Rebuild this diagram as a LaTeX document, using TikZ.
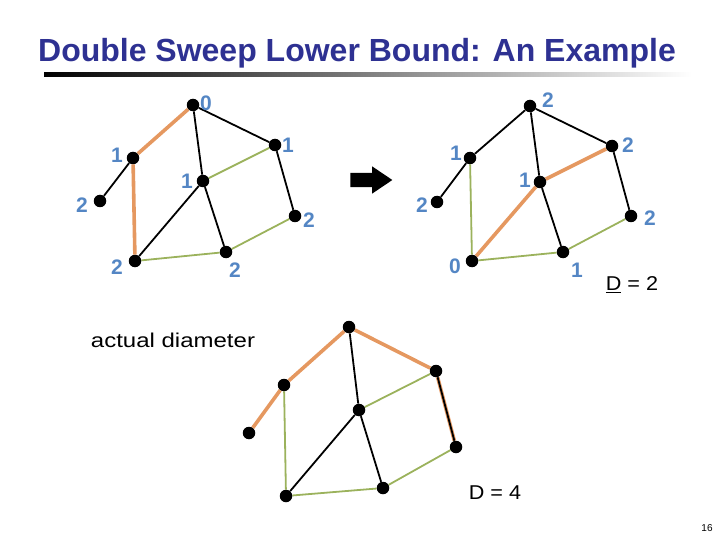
\documentclass[tikz,border=0pt]{standalone}
\usepackage{fontspec}
\setmainfont{Liberation Sans}
\definecolor{titleblue}{RGB}{46, 49, 146}
\definecolor{labelblue}{RGB}{84, 134, 196}
\definecolor{pathorange}{RGB}{229, 152, 96}
\definecolor{edgegreen}{RGB}{155, 178, 92}
\usetikzlibrary{shapes.arrows, backgrounds, positioning}

\tikzset{
  vtx/.style={circle, fill=black, inner sep=0pt, minimum size=12.5pt},
  lbl/.style={text=labelblue, font=\bfseries\fontsize{21}{21}\selectfont, inner sep=0pt},
  blk/.style={line width=1.8pt, black},
  grn/.style={line width=1.8pt, edgegreen},
  org/.style={line width=3.6pt, pathorange},
}

\begin{document}
\begin{tikzpicture}[x=1pt, y=-1pt]
  \useasboundingbox (0,0) rectangle (720,540);

  % title
  \node[text=titleblue, font=\bfseries\fontsize{32}{32}\selectfont] (title) at (357,53) {Double Sweep Lower Bound: An Example};
  \shade[left color=black, right color=white] (44,73) rectangle (692,76.5);

  % first sweep, from the top vertex
  \node[vtx] (a0) at (193,105) {};
  \node[vtx] (a1) at (133,158) {};
  \node[vtx] (a2) at (100,201) {};
  \node[vtx] (a3) at (203,181) {};
  \node[vtx] (a4) at (275,145) {};
  \node[vtx] (a5) at (295,216) {};
  \node[vtx] (a6) at (135,261) {};
  \node[vtx] (a7) at (226,252) {};
  \node[lbl] (la0) at (206,103) {0};
  \node[lbl] (la1) at (117,155) {1};
  \node[lbl] (la2) at (82,205) {2};
  \node[lbl] (la3) at (187,181) {1};
  \node[lbl] (la4) at (288,145) {1};
  \node[lbl] (la5) at (309,220) {2};
  \node[lbl] (la6) at (117,267) {2};
  \node[lbl] (la7) at (235,270) {2};

  \node[single arrow, fill=black, inner sep=0pt, minimum height=42pt,
        single arrow head extend=6.5pt, single arrow tip angle=68] (sweep) at (366,180) {\rule{0pt}{14pt}};

  % second sweep, from the far vertex
  \node[vtx] (b0) at (530,106) {};
  \node[vtx] (b1) at (470,158) {};
  \node[vtx] (b2) at (437,202) {};
  \node[vtx] (b3) at (540,182) {};
  \node[vtx] (b4) at (612,146) {};
  \node[vtx] (b5) at (631,216) {};
  \node[vtx] (b6) at (472,261) {};
  \node[vtx] (b7) at (563,252) {};
  \node[lbl] (lb0) at (548,100) {2};
  \node[lbl] (lb1) at (456,153) {1};
  \node[lbl] (lb2) at (422,205) {2};
  \node[lbl] (lb3) at (525,180) {1};
  \node[lbl] (lb4) at (628,145) {2};
  \node[lbl] (lb5) at (650,218) {2};
  \node[lbl] (lb6) at (455,266) {0};
  \node[lbl] (lb7) at (577,270) {1};
  \node[font=\fontsize{20}{20}\selectfont, xscale=1.08] (bound) at (632,285) {\underline{D} = 2};

  % the real diameter
  \node[font=\fontsize{20}{20}\selectfont, xscale=1.2] (actual) at (173,340) {actual diameter};
  \node[vtx] (c0) at (349,327) {};
  \node[vtx] (c1) at (284,385) {};
  \node[vtx] (c2) at (249,433) {};
  \node[vtx] (c3) at (359,410) {};
  \node[vtx] (c4) at (436,371) {};
  \node[vtx] (c5) at (456,447) {};
  \node[vtx] (c6) at (286,496) {};
  \node[vtx] (c7) at (383,488) {};
  \node[font=\fontsize{20}{20}\selectfont, xscale=1.08] (diam) at (495,493) {D = 4};

  \node[font=\fontsize{10}{10}\selectfont] (page) at (707,528) {16};

  \begin{scope}[on background layer]
    \draw[org] (a0) -- (a1) (a1) -- (a6);
    \draw[blk] (a1) -- (a2) (a0) -- (a3) (a0) -- (a4) (a4) -- (a5) (a3) -- (a6) (a3) -- (a7);
    \draw[grn] (a4) -- (a3) (a6) -- (a7) (a7) -- (a5);

    \draw[org] (b6) -- (b3) (b3) -- (b4);
    \draw[blk] (b1) -- (b2) (b0) -- (b1) (b0) -- (b3) (b0) -- (b4) (b4) -- (b5) (b3) -- (b7);
    \draw[grn] (b1) -- (b6) (b6) -- (b7) (b7) -- (b5);

    \draw[org] (c2) -- (c1) (c1) -- (c0) (c0) -- (c4) (c4) -- (c5);
    \draw[blk] (c0) -- (c3) (c3) -- (c6) (c3) -- (c7) (c4) -- (c5);
    \draw[grn] (c1) -- (c6) (c3) -- (c4) (c6) -- (c7) (c7) -- (c5);
  \end{scope}
\end{tikzpicture}
\end{document}
